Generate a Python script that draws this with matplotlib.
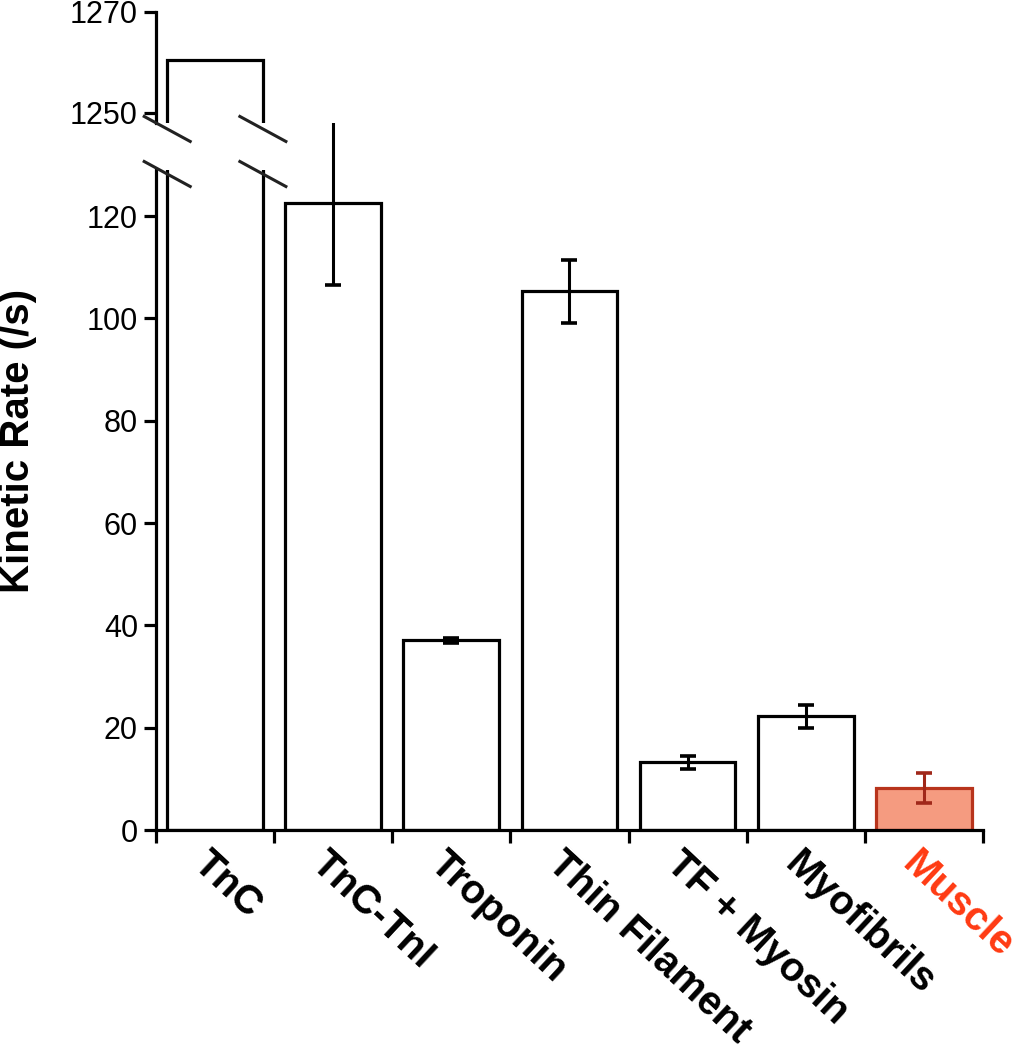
import numpy as np
import matplotlib.pyplot as plt
from matplotlib.lines import Line2D
from matplotlib.transforms import blended_transform_factory, ScaledTranslation

plt.rcParams['font.family'] = ['Liberation Sans', 'DejaVu Sans']

# data
categories = ['TnC', 'TnC-TnI', 'Troponin', 'Thin Filament',
              'TF + Myosin', 'Myofibrils', 'Muscle']
rates = [1260.5, 122.5, 37.1, 105.3, 13.2, 22.2, 8.2]
errors = [0.0, 16.0, 0.5, 6.2, 1.2, 2.3, 3.0]
lower_ticks = [0, 20, 40, 60, 80, 100, 120]
upper_ticks = [1250, 1270]

face = ['white'] * 6 + ['#f59b80']
edge = ['black'] * 6 + ['#b8341c']
err_col = ['black'] * 6 + ['#a0281a']

fig = plt.figure(figsize=(10.35, 10.5), dpi=100)
ax_lo = fig.add_axes([0.1507, 0.2095, 0.799, 0.6286])
ax_hi = fig.add_axes([0.1507, 0.8829, 0.799, 0.1057])

x = np.arange(len(categories))
w = 0.81

for ax in (ax_lo, ax_hi):
    ax.bar(x, rates, width=w, color=face, edgecolor=edge, linewidth=2.3, zorder=2)
    for xi, r, e, c in zip(x, rates, errors, err_col):
        if e > 0:
            ax.errorbar(xi, r, yerr=e, fmt='none', ecolor=c, elinewidth=2.2,
                        capsize=6, capthick=2.6, clip_on=False, zorder=3)
    ax.set_xlim(-0.5, len(categories) - 0.5)
    for s in ('top', 'right'):
        ax.spines[s].set_visible(False)
    ax.spines['left'].set_linewidth(2.3)
    ax.spines['bottom'].set_linewidth(2.3)
    ax.tick_params(axis='y', which='major', length=9, width=2.3, labelsize=22, pad=4)

# lower part of the broken axis
ax_lo.set_ylim(0, 129)
ax_lo.set_yticks(lower_ticks)
ax_lo.set_xticks(np.arange(-0.5, len(categories)), labels=[''] * (len(categories) + 1))
ax_lo.tick_params(axis='x', which='major', length=9, width=2.3)
ax_lo.set_xticks(x, labels=categories, minor=True)
ax_lo.tick_params(axis='x', which='minor', length=0, pad=10, labelsize=29)
offset = ScaledTranslation(-2 / 72, 0, fig.dpi_scale_trans)
for lab in ax_lo.get_xticklabels(minor=True):
    lab.set_rotation(-43)
    lab.set_rotation_mode('anchor')
    lab.set_ha('left')
    lab.set_va('top')
    lab.set_fontweight('bold')
    lab.set_transform(lab.get_transform() + offset)
ax_lo.get_xticklabels(minor=True)[-1].set_color('#ff3a12')

# upper part
ax_hi.set_ylim(1248.0, 1270)
ax_hi.set_yticks(upper_ticks)
ax_hi.spines['bottom'].set_visible(False)
ax_hi.set_xticks([])

fig.text(0.017, 0.58, 'Kinetic Rate (/s)', rotation=90, fontsize=29,
         fontweight='bold', ha='center', va='center')

# break marks on the axis and across the TnC bar edges
def break_mark(ax, xd, ya, dy_px):
    t = blended_transform_factory(ax.transData, ax.transAxes)
    px, py = t.transform((xd, ya))
    fx, fy = fig.transFigure.inverted().transform((px, py - dy_px))
    dx, dy = 23 / 1035, 12.5 / 1050
    fig.add_artist(Line2D([fx - dx, fx + dx], [fy + dy, fy - dy],
                          color='#222222', lw=2.2))

for xe in (x[0] - w / 2, x[0] + w / 2):
    break_mark(ax_hi, xe, 0, 6)
    break_mark(ax_lo, xe, 1, 4)

fig.savefig('out.png', dpi=100)
